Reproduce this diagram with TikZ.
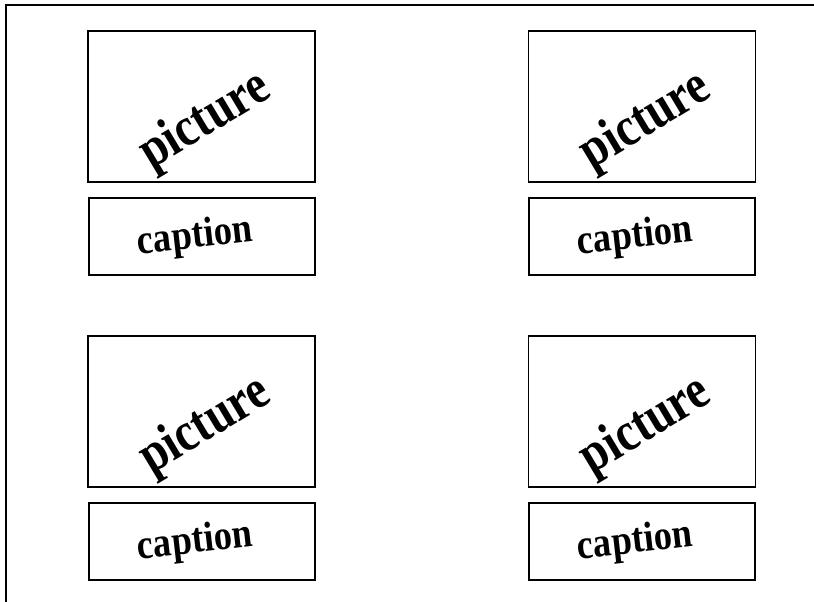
\documentclass[tikz,border=0pt]{standalone}
\usepackage{fontspec}
\setmainfont{Liberation Serif}
\usetikzlibrary{calc}
\begin{document}
\begin{tikzpicture}[x=1bp,y=-1bp,
  box/.style={draw, line width=1.3bp, inner sep=0pt, outer sep=0pt},
  picbox/.style={box, minimum width=227bp, minimum height=151bp},
  capbox/.style={box, minimum width=226bp, minimum height=77bp},
  pictext/.style={font=\fontsize{47}{47}\selectfont\bfseries, rotate=31, inner sep=0pt},
  captext/.style={font=\fontsize{36.5}{36.5}\selectfont\bfseries, rotate=6.5, inner sep=0pt}]
\useasboundingbox (0,0) rectangle (814,602);
\draw[line width=2bp] (5.5,602) -- (5.5,5.5) -- (814,5.5);
% top row
\node[picbox] (p1) at (201.5,106.5) {};
\node[capbox] (c1) at (202,236.5) {};
\node[picbox] (p2) at (642,106.5) {};
\node[capbox] (c2) at (642,236.5) {};
% bottom row
\node[picbox] (p3) at (201.5,411.5) {};
\node[capbox] (c3) at (202,541.5) {};
\node[picbox] (p4) at (642,411.5) {};
\node[capbox] (c4) at (642,541.5) {};
% texts
\foreach \i in {1,2,3,4}{
  \node[pictext] (pt\i) at ($(p\i.center)+(4,15)$) {\scalebox{1}[1.18]{picture}};
  \node[captext] (ct\i) at ($(c\i.center)+(-7,1)$) {\scalebox{1}[1.15]{caption}};
}
\end{tikzpicture}
\end{document}
